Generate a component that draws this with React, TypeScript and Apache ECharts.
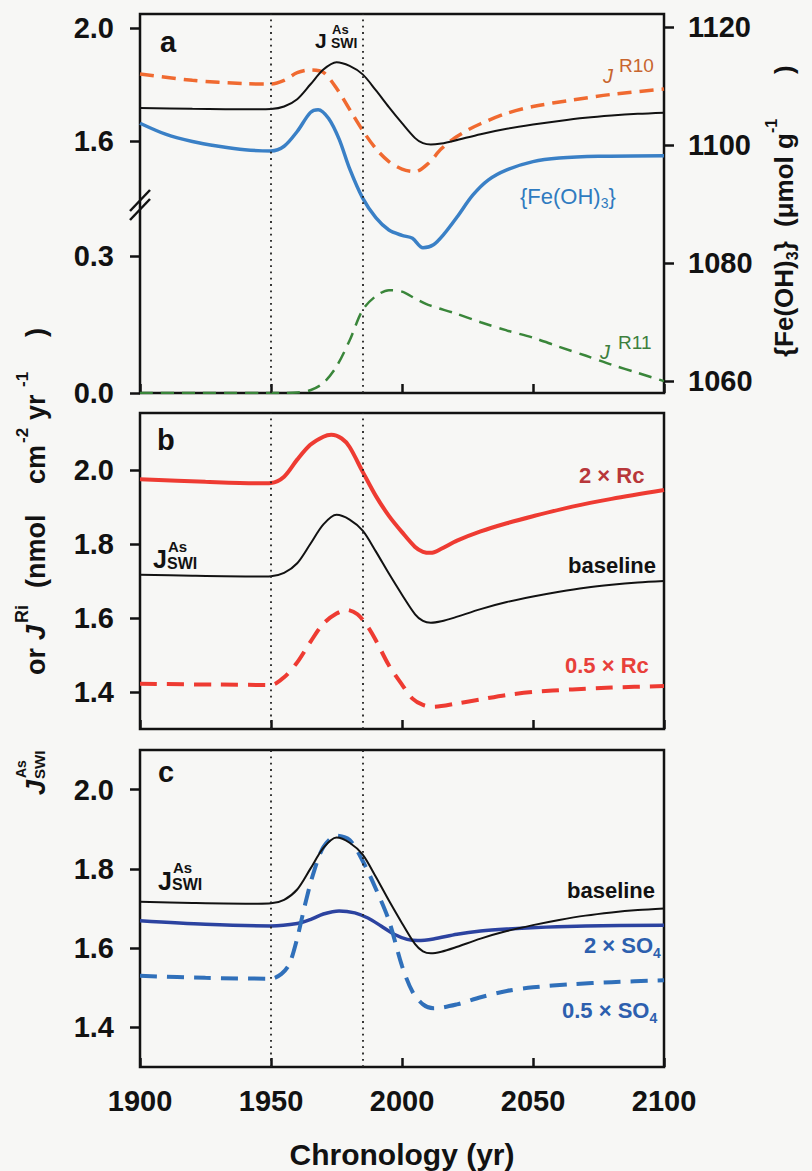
import React, { useEffect, useRef } from 'react';
import * as echarts from 'echarts';

const FONT = "'Liberation Sans', Arial, Helvetica, sans-serif";

// ---------- data ----------
const xTickYears = [1900, 1950, 2000, 2050, 2100];
const markerYears = [1950, 1985];

const aTopTicks = [1.6, 2.0];
const aBottomTicks = [0.0, 0.3];
const feTicks = [1060, 1080, 1100, 1120];
const bTicks = [1.4, 1.6, 1.8, 2.0];
const cTicks = [1.4, 1.6, 1.8, 2.0];

// J_SWI^As baseline (nmol cm-2 yr-1)
const jswiBaseline: [number, number][] = [
  [1900, 1.717], [1920, 1.714], [1945, 1.712], [1950, 1.713], [1955, 1.722], [1960, 1.748],
  [1965, 1.8], [1970, 1.853], [1975, 1.879], [1980, 1.866], [1985, 1.836], [1990, 1.78],
  [1995, 1.72], [2000, 1.663], [2005, 1.61], [2008, 1.592], [2011, 1.587], [2015, 1.591],
  [2020, 1.601], [2030, 1.624], [2040, 1.643], [2050, 1.658], [2060, 1.671], [2070, 1.682],
  [2080, 1.69], [2090, 1.696], [2100, 1.7],
];
// J^R10 (panel a, orange dashed)
const jR10: [number, number][] = [
  [1900, 1.837], [1920, 1.815], [1940, 1.803], [1950, 1.802], [1955, 1.815], [1960, 1.842],
  [1965, 1.852], [1970, 1.843], [1975, 1.787], [1980, 1.712], [1985, 1.637], [1990, 1.573],
  [1995, 1.527], [2000, 1.5], [2005, 1.491], [2010, 1.52], [2015, 1.572], [2020, 1.61],
  [2025, 1.638], [2030, 1.661], [2040, 1.698], [2050, 1.722], [2065, 1.745], [2080, 1.765],
  [2100, 1.784],
];
// {Fe(OH)3} (umol g-1, right axis)
const feOH3: [number, number][] = [
  [1900, 1103.7], [1910, 1101.8], [1920, 1100.6], [1930, 1099.8], [1940, 1099.2], [1950, 1099.0],
  [1955, 1099.8], [1960, 1102.3], [1965, 1105.5], [1968, 1106.0], [1972, 1104.5], [1976, 1101.0],
  [1980, 1096.0], [1985, 1091.0], [1990, 1087.7], [1995, 1085.6], [2000, 1084.7], [2004, 1084.2],
  [2008, 1082.6], [2012, 1083.1], [2016, 1084.9], [2021, 1087.8], [2027, 1091.5], [2033, 1094.1],
  [2040, 1095.8], [2050, 1097.2], [2060, 1097.8], [2075, 1098.1], [2100, 1098.2],
];
// J^R11 (panel a, green dashed, lower section)
const jR11: [number, number][] = [
  [1900, 0], [1955, 0], [1960, 0.001], [1965, 0.006], [1970, 0.022], [1975, 0.058],
  [1980, 0.115], [1985, 0.182], [1990, 0.212], [1995, 0.225], [2000, 0.222], [2005, 0.207],
  [2010, 0.193], [2020, 0.175], [2030, 0.155], [2040, 0.137], [2050, 0.121], [2060, 0.101],
  [2070, 0.082], [2080, 0.062], [2090, 0.044], [2100, 0.026],
];
// panel b
const rc2: [number, number][] = [
  [1900, 1.975], [1925, 1.968], [1945, 1.964], [1950, 1.965], [1955, 1.982], [1960, 2.028],
  [1965, 2.068], [1970, 2.09], [1973, 2.095], [1977, 2.085], [1980, 2.062], [1985, 1.995],
  [1990, 1.93], [1995, 1.876], [2000, 1.832], [2005, 1.792], [2008, 1.779], [2011, 1.776],
  [2015, 1.787], [2021, 1.809], [2030, 1.834], [2040, 1.856], [2050, 1.875], [2065, 1.901],
  [2080, 1.922], [2100, 1.946],
];
const rcHalf: [number, number][] = [
  [1900, 1.422], [1930, 1.42], [1950, 1.419], [1955, 1.44], [1960, 1.48], [1965, 1.535],
  [1970, 1.585], [1975, 1.612], [1979, 1.622], [1983, 1.61], [1987, 1.576], [1990, 1.54],
  [1995, 1.472], [2000, 1.42], [2004, 1.382], [2008, 1.365], [2012, 1.36], [2021, 1.369],
  [2030, 1.38], [2040, 1.392], [2050, 1.4], [2065, 1.407], [2080, 1.412], [2100, 1.416],
];
// panel c
const so4x2: [number, number][] = [
  [1900, 1.669], [1925, 1.66], [1950, 1.656], [1960, 1.662], [1965, 1.672], [1970, 1.686],
  [1976, 1.694], [1982, 1.689], [1987, 1.676], [1992, 1.656], [1997, 1.635], [2002, 1.622],
  [2006, 1.619], [2012, 1.623], [2021, 1.635], [2030, 1.643], [2040, 1.648], [2055, 1.653],
  [2070, 1.656], [2100, 1.658],
];
const so4Half: [number, number][] = [
  [1900, 1.53], [1925, 1.525], [1950, 1.523], [1954, 1.535], [1957, 1.56], [1960, 1.625],
  [1963, 1.71], [1966, 1.785], [1970, 1.855], [1975, 1.884], [1980, 1.873], [1985, 1.82],
  [1990, 1.75], [1995, 1.67], [2000, 1.555], [2004, 1.49], [2008, 1.458], [2012, 1.448],
  [2021, 1.458], [2030, 1.476], [2040, 1.492], [2050, 1.501], [2065, 1.509], [2080, 1.514],
  [2100, 1.519],
];

// ---------- text helpers ----------
type Piece = { t: string; s: number; w?: string; it?: boolean; at?: number; dy?: number; adv?: boolean };

let measureCtx: CanvasRenderingContext2D | null = null;
function fontStr(p: Piece) {
  return `${p.it ? 'italic ' : ''}${p.w || 'bold'} ${p.s}px ${FONT}`;
}
function measure(p: Piece) {
  if (!measureCtx) measureCtx = document.createElement('canvas').getContext('2d');
  if (!measureCtx) return p.t.length * p.s * 0.55;
  measureCtx.font = fontStr(p);
  return measureCtx.measureText(p.t).width;
}
function pieceEls(pieces: Piece[], color: string, dw?: string) {
  let cur = 0;
  const out: any[] = [];
  for (const p of pieces) {
    const q = { ...p, w: p.w || dw };
    const x = q.at !== undefined ? q.at : cur;
    out.push({
      type: 'text',
      x,
      y: (q.dy || 0) - 0.35 * q.s,
      style: {
        text: q.t,
        fontSize: q.s,
        fontWeight: q.w || 'bold',
        fontStyle: q.it ? 'italic' : 'normal',
        fontFamily: FONT,
        fill: color,
        align: 'left',
        verticalAlign: 'middle',
        textAlign: 'left',
        textVerticalAlign: 'middle',
      },
    });
    if (q.adv !== false) cur = x + measure(q);
  }
  return out;
}
function label(pieces: Piece[], left: number, baseline: number, color: string, dw?: string, rot = 0) {
  return { type: 'group', x: left, y: baseline, rotation: rot, z: 100, children: pieceEls(pieces, color, dw) };
}

const BLACK = '#121212';
const AXW = 2.5;

function App() {
  const ref = useRef<HTMLDivElement>(null);
  useEffect(() => {
    if (!ref.current) return;
    const chart = echarts.init(ref.current, undefined, { renderer: 'svg' });

    const gl = 140, gr = 812 - 664;
    const grids = [
      { left: gl, right: gr, top: 14, height: 379, show: true, borderColor: BLACK, borderWidth: AXW, backgroundColor: 'transparent' },
      { left: gl, right: gr, top: 14, height: 189 },
      { left: gl, right: gr, top: 203, height: 190 },
      { left: gl, right: gr, top: 413, height: 316, show: true, borderColor: BLACK, borderWidth: AXW, backgroundColor: 'transparent' },
      { left: gl, right: gr, top: 750, height: 317, show: true, borderColor: BLACK, borderWidth: AXW, backgroundColor: 'transparent' },
    ];

    const xBase = (gi: number, visible: boolean, labels: boolean) => ({
      type: 'value', gridIndex: gi, min: xTickYears[0], max: xTickYears[xTickYears.length - 1], interval: 50,
      show: visible,
      axisLine: { show: false },
      axisTick: { show: true, inside: true, length: 9, lineStyle: { color: BLACK, width: AXW } },
      axisLabel: {
        show: labels, margin: 19, fontSize: 29, fontWeight: 'bold', fontFamily: FONT, color: BLACK,
        formatter: (v: number) => String(v),
      },
      splitLine: { show: false },
    });
    const xAxes: any[] = [xBase(0, true, false), xBase(1, false, false), xBase(2, false, false), xBase(3, true, false), xBase(4, true, true)];
    xAxes[4].name = 'Chronology (yr)';
    xAxes[4].nameLocation = 'middle';
    xAxes[4].nameGap = 72;
    xAxes[4].nameTextStyle = { fontSize: 30, fontWeight: 'bold', fontFamily: FONT, color: BLACK };

    const yBase = (gi: number, pos: string, min: number, max: number, ticks: number[], dec: number, margin: number) => ({
      type: 'value', gridIndex: gi, position: pos, min, max,
      axisLine: { show: false },
      axisTick: { show: true, length: 10, customValues: ticks, lineStyle: { color: BLACK, width: AXW } },
      axisLabel: {
        customValues: ticks, margin, fontSize: 29, fontWeight: 'bold', fontFamily: FONT, color: BLACK,
        formatter: (v: number) => v.toFixed(dec),
      },
      splitLine: { show: false },
    });
    const yAxes = [
      yBase(0, 'right', 1058, 1122.2, feTicks, 0, 24),
      yBase(1, 'left', 1.38, 2.05, aTopTicks, 1, 26),
      yBase(2, 'left', 0, 0.416, aBottomTicks, 1, 26),
      yBase(3, 'left', 1.3, 2.154, bTicks, 1, 26),
      yBase(4, 'left', 1.3, 2.1, cTicks, 1, 26),
    ];

    const markLine = {
      silent: true, symbol: 'none', label: { show: false },
      lineStyle: { color: '#222', width: 1.8, type: [1.8, 4.5] },
      data: markerYears.map((y) => ({ xAxis: y })),
    };
    const line = (data: [number, number][], xi: number, yi: number, color: string, width: number, type: any, extra: any = {}) => ({
      type: 'line', xAxisIndex: xi, yAxisIndex: yi, data, showSymbol: false, symbol: 'none',
      smooth: 0.3,
      lineStyle: { color, width, type, cap: 'butt' }, silent: true, ...extra,
    });

    const series = [
      line(feOH3, 0, 0, '#3a80c6', 3.5, 'solid', { markLine, z: 3 }),
      line(jR10, 1, 1, '#f06a30', 3.5, [14, 8], { z: 3 }),
      line(jswiBaseline, 1, 1, BLACK, 2, 'solid', { z: 4 }),
      line(jR11, 2, 2, '#3a863a', 2.5, [13, 8], { z: 3 }),
      line(rc2, 3, 3, '#ee3b32', 4, 'solid', { z: 3 }),
      line(jswiBaseline, 3, 3, BLACK, 2, 'solid', { markLine, z: 4 }),
      line(rcHalf, 3, 3, '#ee3b32', 4, [17, 10], { z: 3 }),
      line(jswiBaseline, 4, 4, BLACK, 2, 'solid', { markLine, z: 4 }),
      line(so4x2, 4, 4, '#2c43a0', 3.5, 'solid', { z: 3 }),
      line(so4Half, 4, 4, '#3070ba', 4, [17, 10], { z: 3 }),
    ];

    const R = Math.PI / 2;
    const graphic: any[] = [
      // panel letters
      label([{ t: 'a', s: 29 }], 160, 52, BLACK),
      label([{ t: 'b', s: 29 }], 157, 450, BLACK),
      label([{ t: 'c', s: 29 }], 158, 782, BLACK),
      // J_SWI^As labels
      label([{ t: 'J', s: 21 }, { t: 'As', s: 13, at: 17, dy: -14 }, { t: 'SWI', s: 14, at: 16, dy: 0 }], 315, 48, BLACK),
      label([{ t: 'J', s: 25 }, { t: 'As', s: 15, at: 15, dy: -16 }, { t: 'SWI', s: 16, at: 14, dy: 1 }], 153, 568, BLACK),
      label([{ t: 'J', s: 25 }, { t: 'As', s: 15, at: 15, dy: -17 }, { t: 'SWI', s: 16, at: 14, dy: 0 }], 158, 890, BLACK),
      // J^R10, J^R11, {Fe(OH)3}
      label([{ t: 'J', s: 20, it: true }, { t: 'R10', s: 19, at: 16, dy: -11 }], 603, 83, '#c8652e', 'normal'),
      label([{ t: 'J', s: 20, it: true }, { t: 'R11', s: 19, at: 18, dy: -10 }], 600, 359, '#3d7f3d', 'normal'),
      label([{ t: '{Fe(OH)', s: 22 }, { t: '3', s: 14, dy: 4 }, { t: '}', s: 22 }], 520, 204, '#2f7bc0', 'normal'),
      // panel b
      label([{ t: '2 × Rc', s: 22 }], 579, 483, '#b8373a'),
      label([{ t: 'baseline', s: 22 }], 568, 573, BLACK),
      label([{ t: '0.5 × Rc', s: 22 }], 565, 673, '#e8403a'),
      // panel c
      label([{ t: 'baseline', s: 22 }], 567, 898, BLACK),
      label([{ t: '2 × SO', s: 22 }, { t: '4', s: 14, dy: 5 }], 584, 953, '#2d5fae'),
      label([{ t: '0.5 × SO', s: 22 }, { t: '4', s: 14, dy: 5 }], 562, 1018, '#2d5fae'),
      // left title (rotated)
      label([
        { t: 'J', s: 27, it: true, at: 0 },
        { t: 'As', s: 14, at: 17, dy: -19 },
        { t: 'SWI', s: 15, at: 16, dy: 0 },
        { t: 'or', s: 27, at: 120 },
        { t: 'J', s: 27, it: true, at: 155 },
        { t: 'Ri', s: 18, at: 172, dy: -17 },
        { t: '(nmol', s: 27, at: 207 },
        { t: 'cm', s: 27, at: 311 },
        { t: '-2', s: 17, at: 352, dy: -17 },
        { t: 'yr', s: 27, at: 375 },
        { t: '-1', s: 17, at: 408, dy: -17 },
        { t: ')', s: 27, at: 458 },
      ], 45, 795, BLACK, 'bold', R),
      // right title (rotated)
      label([
        { t: '{Fe(OH)', s: 26, at: 0 },
        { t: '3', s: 16, dy: 5 },
        { t: '}', s: 26 },
        { t: '(μmol g', s: 26, at: 130 },
        { t: '-1', s: 16, dy: -16 },
        { t: ')', s: 26, at: 283 },
      ], 793, 357, BLACK, 'bold', R),
      // axis break marks
      { type: 'line', z: 100, shape: { x1: 150, y1: 190, x2: 130, y2: 211 }, style: { stroke: BLACK, lineWidth: 2.5 } },
      { type: 'line', z: 100, shape: { x1: 150, y1: 199, x2: 130, y2: 220 }, style: { stroke: BLACK, lineWidth: 2.5 } },
    ];

    chart.setOption({
      animation: false,
      backgroundColor: '#f7f7f5',
      grid: grids,
      xAxis: xAxes,
      yAxis: yAxes,
      series,
      graphic,
    });
    return () => chart.dispose();
  }, []);
  return <div ref={ref} style={{ position: 'absolute', left: 0, top: 0, width: 812, height: 1171 }} />;
}

export default App;
